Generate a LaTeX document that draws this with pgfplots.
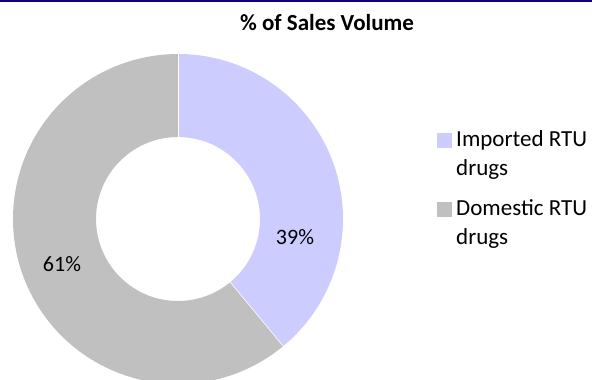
\documentclass[border=0pt]{standalone}
\usepackage{pgfplots}
\pgfplotsset{compat=1.18}
\usepackage{fontspec}
\setmainfont{Carlito}
\definecolor{impc}{RGB}{204,204,255}
\definecolor{domc}{RGB}{192,192,192}
\definecolor{topline}{RGB}{16,0,128}
\begin{document}
\begin{tikzpicture}
\clip (0,0) rectangle (592bp,380bp);
\begin{axis}[
  scale only axis, width=592bp, height=380bp,
  xmin=0, xmax=592, ymin=0, ymax=380,
  hide axis, clip=false,
]
% values (percent)
\def\vImp{39}
\def\vDom{61}
\pgfmathsetmacro{\aEnd}{90-3.6*\vImp}
\pgfmathsetmacro{\bEnd}{\aEnd-3.6*\vDom}
% imported slice
\fill[impc] (axis cs:178,161) ++(90:165bp) arc[start angle=90,end angle=\aEnd,radius=165bp]
  -- ++(\aEnd+180:83bp) arc[start angle=\aEnd,end angle=90,radius=82bp] -- cycle;
% domestic slice
\fill[domc] (axis cs:178,161) ++(\aEnd:165bp) arc[start angle=\aEnd,end angle=\bEnd,radius=165bp]
  -- ++(\bEnd+180:83bp) arc[start angle=\bEnd,end angle=\aEnd,radius=82bp] -- cycle;
\draw[white,line width=0.6bp] (axis cs:178,161) ++(90:82bp) -- ++(90:83bp);
\draw[white,line width=0.6bp] (axis cs:178,161) ++(\aEnd:82bp) -- ++(\aEnd:83bp);
% labels
\node[font=\fontsize{22bp}{27bp}\selectfont] at (axis cs:295,143) {\vImp\%};
\node[font=\fontsize{22bp}{27bp}\selectfont] at (axis cs:62,116) {\vDom\%};
% title
\node[font=\fontsize{23bp}{28bp}\selectfont\bfseries] at (axis cs:327,357) {\% of Sales Volume};
% top line
\draw[topline,line width=2bp] (axis cs:0,379.5) -- (axis cs:592,379.5);
% legend
\fill[impc] (axis cs:437,232) rectangle (axis cs:452,247);
\node[anchor=west,align=left,font=\fontsize{23bp}{28.5bp}\selectfont,inner sep=0pt] at (axis cs:456,225) {Imported RTU\\drugs};
\fill[domc] (axis cs:437,163) rectangle (axis cs:452,178);
\node[anchor=west,align=left,font=\fontsize{23bp}{28.5bp}\selectfont,inner sep=0pt] at (axis cs:456,156) {Domestic RTU\\drugs};
\end{axis}
\end{tikzpicture}
\end{document}
